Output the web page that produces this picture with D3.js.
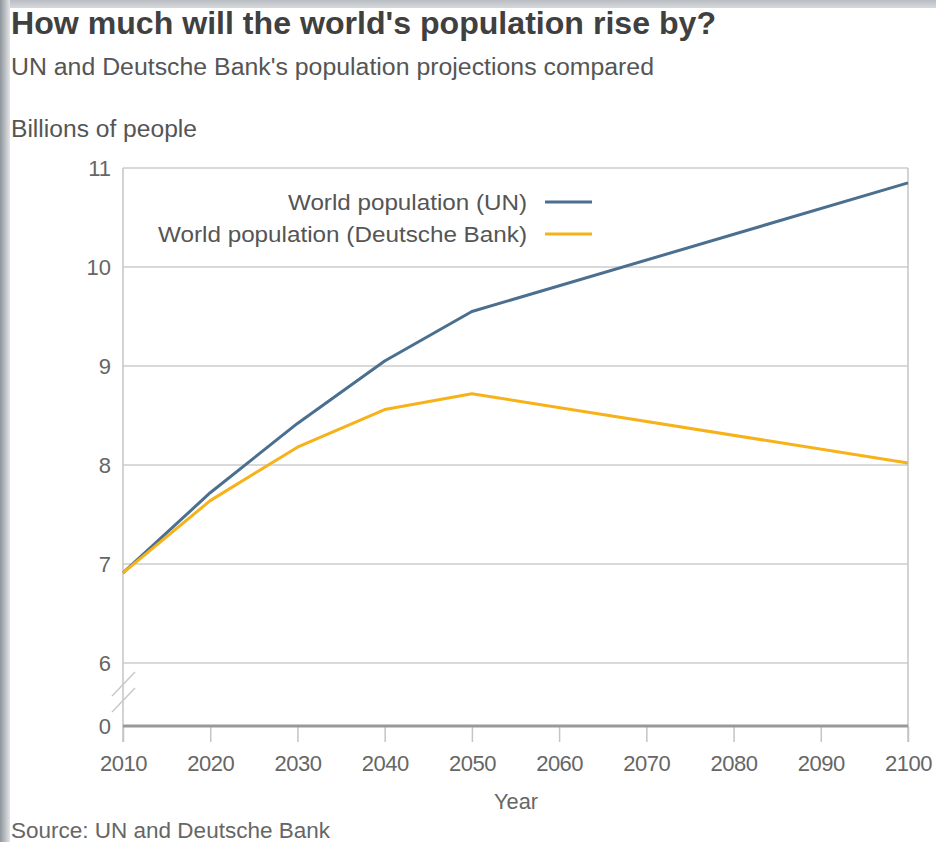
<!DOCTYPE html>
<html><head><meta charset="utf-8">
<script src="https://cdn.jsdelivr.net/npm/d3@7"></script>
<style>body{margin:0;background:#fff;}svg{display:block;font-family:"Liberation Sans",Arial,sans-serif;}</style>
</head><body>
<script>
const years = [2010, 2020, 2030, 2040, 2050, 2100];
const unValues = [6.91, 7.72, 8.42, 9.05, 9.55, 10.85];
const dbValues = [6.91, 7.64, 8.18, 8.56, 8.72, 8.02];
const seriesNames = ["World population (UN)", "World population (Deutsche Bank)"];
const seriesColors = ["#4a6f8f", "#f7b219"];
const yTicks = [0, 6, 7, 8, 9, 10, 11];
const xTicks = [2010, 2020, 2030, 2040, 2050, 2060, 2070, 2080, 2090, 2100];

const W = 936, H = 842;
const svg = d3.select("body").append("svg").attr("width", W).attr("height", H);
const defs = svg.append("defs");
const gl = defs.append("linearGradient").attr("id","gl").attr("x1","0").attr("x2","1").attr("y1","0").attr("y2","0");
gl.append("stop").attr("offset","0").attr("stop-color","#8e959c");
gl.append("stop").attr("offset","1").attr("stop-color","#e4e6e8");
const gt = defs.append("linearGradient").attr("id","gt").attr("x1","0").attr("x2","0").attr("y1","0").attr("y2","1");
gt.append("stop").attr("offset","0").attr("stop-color","#b9bdc2");
gt.append("stop").attr("offset","1").attr("stop-color","#d6d8db");
svg.append("rect").attr("x",0).attr("y",0).attr("width",W).attr("height",8).attr("fill","url(#gt)");
svg.append("rect").attr("x",0).attr("y",0).attr("width",10).attr("height",H).attr("fill","url(#gl)");

const x = d3.scaleLinear().domain([2010, 2100]).range([123, 908]);
const y = d3.scaleLinear().domain([0, 6, 11]).range([726, 663, 168]);

function txt(t, px, py, size, fill, len, opts = {}) {
  const e = svg.append("text").attr("x", px).attr("y", py).attr("font-size", size).attr("fill", fill).text(t);
  if (len) e.attr("textLength", len).attr("lengthAdjust", "spacingAndGlyphs");
  if (opts.bold) e.attr("font-weight", "bold");
  if (opts.anchor) e.attr("text-anchor", opts.anchor);
  return e;
}

// titles
txt("How much will the world's population rise by?", 11, 34, 31, "#404040", 705, {bold: true});
txt("UN and Deutsche Bank's population projections compared", 11, 75, 23, "#555", 643);
txt("Billions of people", 11, 137, 23, "#555", 186);

// gridlines
svg.append("g").selectAll("line").data(yTicks.filter(d=>d>0)).join("line")
  .attr("x1",x(2010)).attr("x2",x(2100)).attr("y1",d=>y(d)).attr("y2",d=>y(d))
  .attr("stroke","#cccccc").attr("stroke-width",1.5);
// left and right verticals
svg.append("line").attr("x1",x(2010)).attr("x2",x(2010)).attr("y1",y(11)).attr("y2",y(0)+16).attr("stroke","#c4c4c4").attr("stroke-width",1.5);
svg.append("line").attr("x1",x(2100)).attr("x2",x(2100)).attr("y1",y(11)).attr("y2",y(0)+16).attr("stroke","#c4c4c4").attr("stroke-width",1.5);

// y axis labels
const yAxis = d3.axisLeft(y).tickValues(yTicks).tickSize(0).tickPadding(12).tickFormat(d3.format("d"));
const gy = svg.append("g").attr("transform",`translate(${x(2010)},0)`).call(yAxis);
gy.select(".domain").remove();
gy.selectAll("text").attr("font-size",22).attr("fill","#666").attr("font-family","Liberation Sans, Arial, sans-serif");

// x axis
const xAxis = d3.axisBottom(x).tickValues(xTicks).tickSize(16).tickPadding(13).tickFormat(d3.format("d"));
const gx = svg.append("g").attr("transform",`translate(0,${y(0)})`).call(xAxis);
gx.select(".domain").remove();
gx.selectAll(".tick line").attr("stroke","#c4c4c4").attr("stroke-width",1.5);
gx.selectAll("text").attr("font-size",22).attr("fill","#666").attr("font-family","Liberation Sans, Arial, sans-serif").attr("letter-spacing","-0.5");
svg.append("line").attr("x1",x(2010)).attr("x2",x(2100)).attr("y1",y(0)).attr("y2",y(0)).attr("stroke","#999").attr("stroke-width",3);

// axis break marks
const brk = svg.append("g").attr("stroke","#c8c8c8").attr("stroke-width",1.5);
brk.append("line").attr("x1",x(2010)-11).attr("y1",696).attr("x2",x(2010)+12).attr("y2",672);
brk.append("line").attr("x1",x(2010)-11).attr("y1",712).attr("x2",x(2010)+12).attr("y2",688);

txt("Year", 516, 809, 22, "#666", 44, {anchor: "middle"});
txt("Source: UN and Deutsche Bank", 11, 838, 22, "#666", 319);

// lines
const line = d3.line().x((d,i)=>x(years[i])).y(d=>y(d));
[unValues, dbValues].forEach((vals, k) => {
  svg.append("path").datum(vals).attr("d", line).attr("fill","none")
    .attr("stroke", seriesColors[k]).attr("stroke-width",3).attr("stroke-linejoin","round");
});

// legend
const legLens = [239, 369];
const legY = [202, 234];
seriesNames.forEach((n,k)=>{
  const ly = legY[k];
  txt(n, 527, ly + 8, 22, "#555", legLens[k], {anchor: "end"});
  svg.append("line").attr("x1",545).attr("x2",592).attr("y1",ly).attr("y2",ly).attr("stroke",seriesColors[k]).attr("stroke-width",3);
});
</script>
</body></html>
